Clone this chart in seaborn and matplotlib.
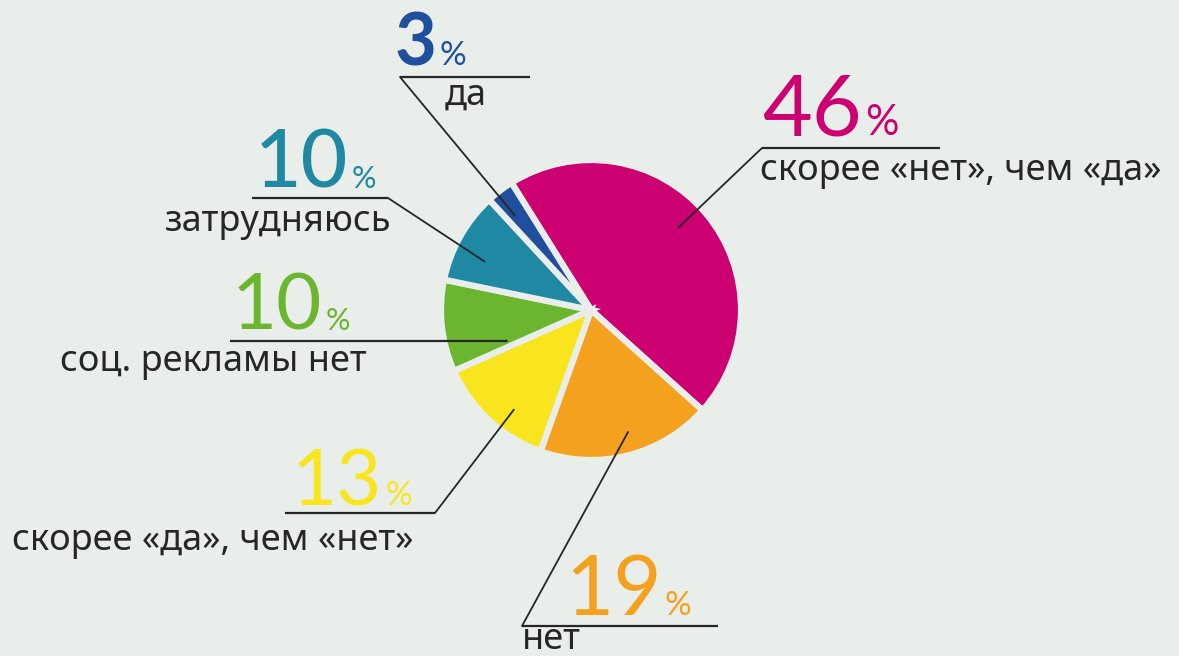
import numpy as np
import matplotlib.pyplot as plt
import seaborn as sns

# survey answers, clockwise from the top
labels = ['скорее «нет», чем «да»', 'нет', 'скорее «да», чем «нет»',
          'соц. рекламы нет', 'затрудняюсь', 'да']
values = [46, 19, 13, 10, 10, 3]
colors = ['#cc0071', '#f4a11f', '#f8e51e', '#6cb52e', '#1f88a3', '#1f4f9d']

BG = '#e9eeea'
INK = '#262626'
W, H = 1179, 656

sns.set_theme(style='white', rc={'figure.facecolor': BG, 'axes.facecolor': BG})
plt.rcParams['font.family'] = ['Noto Sans', 'DejaVu Sans']

fig = plt.figure(figsize=(W / 100, H / 100), dpi=100)
ax = fig.add_axes([0, 0, 1, 1])

wedges, _ = ax.pie(values, colors=colors, startangle=122, counterclock=False,
                   center=(591, H - 310), radius=150,
                   explode=[0.035] * len(values),
                   wedgeprops=dict(edgecolor=BG, linewidth=4.5))

# pie() resets the limits, so set the pixel-like frame afterwards
ax.set_xlim(0, W)
ax.set_ylim(0, H)
ax.set_aspect('equal')
ax.axis('off')
renderer = fig.canvas.get_renderer()

# label layout (image pixels, y from top):
# number x, baseline, size, weight, % size, underline x0, x1, y, corner x,
# text x, text baseline, position of anchor inside wedge (t along arc, r frac)
layout = [
    (762, 135, 62, 'normal', 30, 762, 940, 148, 762, 760, 180, 0.52, 0.80),
    (565, 615, 60, 'normal', 24, 522, 718, 626, 522, 522, 649, 0.54, 0.85),
    (292, 505, 56, 'normal', 24, 285, 435, 513, 435, 12, 550, 0.61, 0.84),
    (232, 330, 56, 'normal', 22, 230, 507, 341, 507, 60, 371, 0.88, 0.60),
    (255, 188, 58, 'medium', 22, 252, 388, 198, 388, 165, 231, 0.64, 0.78),
    (395, 65, 52, 'bold', 24, 400, 530, 77, 400, 445, 105, 0.64, 0.81),
]

for w, lab, val, col, lay in zip(wedges, labels, values, colors, layout):
    nx, nb, ns, nw, ps, ux0, ux1, uy, cx, tx, tb, t, rf = lay
    ang = np.deg2rad(w.theta1 + t * (w.theta2 - w.theta1))
    ax_x = w.center[0] + rf * w.r * np.cos(ang)
    ax_y = w.center[1] + rf * w.r * np.sin(ang)

    num = ax.text(nx, H - nb, str(val), color=col, fontsize=ns, fontweight=nw,
                  family=['Lato', 'Noto Sans'], ha='left', va='baseline')
    right = num.get_window_extent(renderer).x1
    ax.text(right + 3, H - nb, '%', color=col, fontsize=ps,
            family=['Lato', 'Noto Sans'], ha='left', va='baseline')
    ax.plot([ux0, ux1], [H - uy, H - uy], color=INK, lw=1.6,
            solid_capstyle='butt')
    ax.plot([cx, ax_x], [H - uy, ax_y], color=INK, lw=1.3)
    ax.text(tx, H - tb, lab, color=INK, fontsize=26, fontweight='light',
            ha='left', va='baseline')

fig.savefig('out.png', dpi=100, facecolor=BG)
